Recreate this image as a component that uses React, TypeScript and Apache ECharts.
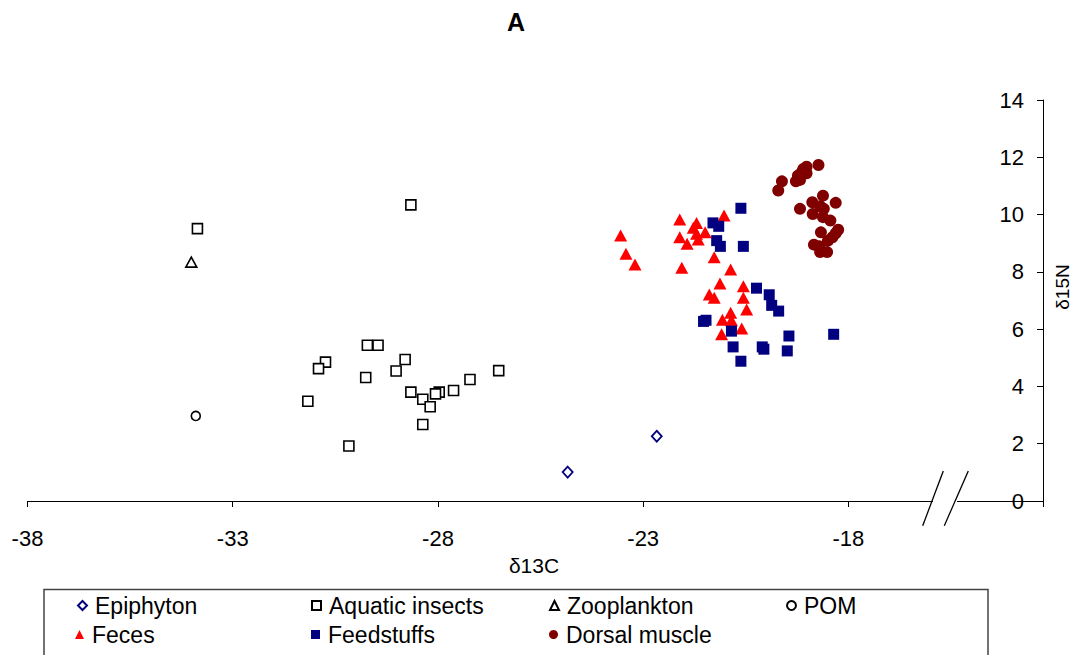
import React, { useEffect, useRef } from "react";
import * as echarts from "echarts";

const FONT = "'Liberation Sans', Arial, sans-serif";

const xTicks = [-38, -33, -28, -23, -18];
const yTicks = [0, 2, 4, 6, 8, 10, 12, 14];

const epiphyton = [[-24.84, 1.01], [-22.67, 2.26]];
const aquaticInsects = [
  [-28.66, 10.34], [-33.86, 9.51], [-29.72, 5.44], [-29.46, 5.44], [-30.74, 4.85],
  [-30.91, 4.62], [-28.8, 4.94], [-29.02, 4.54], [-29.76, 4.31], [-26.52, 4.55],
  [-27.22, 4.24], [-27.62, 3.86], [-27.97, 3.8], [-28.06, 3.74], [-28.66, 3.8],
  [-28.37, 3.55], [-28.19, 3.29], [-31.17, 3.48], [-28.37, 2.67], [-30.17, 1.92],
];
const zooplankton = [[-34.01, 8.34]];
const pom = [[-33.9, 2.97]];
const feces = [
  [-23.55, 9.27], [-23.42, 8.63], [-23.2, 8.26], [-22.11, 9.83], [-21.7, 9.71],
  [-21.78, 9.54], [-22.11, 9.21], [-21.7, 9.33], [-21.49, 9.38], [-21.66, 9.13],
  [-21.93, 8.98], [-21.03, 9.97], [-21.27, 8.51], [-22.06, 8.14], [-20.87, 8.08],
  [-21.13, 7.59], [-20.56, 7.5], [-21.39, 7.21], [-21.27, 7.1], [-20.56, 7.1],
  [-20.48, 6.69], [-20.87, 6.57], [-21.07, 6.33], [-20.85, 6.31], [-20.6, 6.02],
  [-21.09, 5.82],
];
const feedstuffs = [
  [-20.62, 10.22], [-21.3, 9.71], [-21.16, 9.59], [-21.21, 9.09], [-21.12, 8.89],
  [-20.56, 8.89], [-20.24, 7.43], [-19.93, 7.2], [-19.87, 6.83], [-19.7, 6.63],
  [-21.53, 6.27], [-21.47, 6.31], [-20.85, 5.93], [-19.45, 5.76], [-18.36, 5.82],
  [-20.81, 5.38], [-20.1, 5.38], [-20.06, 5.3], [-19.49, 5.24], [-20.62, 4.88],
];
const dorsalMuscle = [
  [-18.73, 11.73], [-19.02, 11.67], [-19.1, 11.59], [-19.14, 11.47], [-19.02, 11.44],
  [-19.23, 11.36], [-19.28, 11.16], [-19.18, 11.21], [-19.62, 11.16], [-19.71, 10.84],
  [-18.62, 10.66], [-18.88, 10.43], [-18.31, 10.41], [-19.18, 10.2], [-18.69, 10.29],
  [-18.6, 10.2], [-18.87, 10.02], [-18.62, 9.91], [-18.44, 9.79], [-18.25, 9.47],
  [-18.31, 9.35], [-18.67, 9.38], [-18.39, 9.21], [-18.5, 9.09], [-18.84, 8.95],
  [-18.69, 8.69], [-18.52, 8.69], [-18.71, 8.89],
];

const seriesNames = [
  "Epiphyton", "Aquatic insects", "Zooplankton", "POM",
  "Feces", "Feedstuffs", "Dorsal muscle",
];

export default function App() {
  const ref = useRef<HTMLDivElement>(null);
  useEffect(() => {
    if (!ref.current) return;
    const chart = echarts.init(ref.current, null, { renderer: "svg" });
    const hollow = (border: string, bw = 1.6) => ({ color: "#ffffff", borderColor: border, borderWidth: bw, opacity: 1 });
    const series: any[] = [
      { name: seriesNames[0], data: epiphyton, symbol: "diamond", symbolSize: [10, 11], itemStyle: hollow("#000080", 1.8) },
      { name: seriesNames[1], data: aquaticInsects, symbol: "rect", symbolSize: 10, itemStyle: hollow("#000000", 1.6) },
      { name: seriesNames[2], data: zooplankton, symbol: "triangle", symbolSize: [11, 10], itemStyle: hollow("#000000", 1.6) },
      { name: seriesNames[3], data: pom, symbol: "circle", symbolSize: 9, itemStyle: hollow("#000000", 1.6) },
      { name: seriesNames[4], data: feces, symbol: "triangle", symbolSize: [13, 12], itemStyle: { color: "#ff0000", opacity: 1 } },
      { name: seriesNames[5], data: feedstuffs, symbol: "rect", symbolSize: 11, itemStyle: { color: "#000080", opacity: 1 } },
      { name: seriesNames[6], data: dorsalMuscle, symbol: "circle", symbolSize: 12, itemStyle: { color: "#800000", opacity: 1 } },
    ].map((s) => ({ type: "scatter", ...s }));

    const legendPos = [
      [77, 594], [311, 594], [549, 594], [786, 594],
      [75, 623], [311, 623], [549, 623],
    ];
    const legends = seriesNames.map((n, i) => ({
      data: [n],
      left: legendPos[i][0],
      top: legendPos[i][1],
      itemWidth: 9,
      itemHeight: 9,
      itemGap: 0,
      padding: 0,
      selectedMode: false,
      textStyle: { fontFamily: FONT, fontSize: 23, color: "#000", padding: [0, 0, 0, 3] },
    }));

    chart.setOption({
      animation: false,
      backgroundColor: "#ffffff",
      legend: legends,
      grid: { left: 27.5, right: 36, top: 100, bottom: 154, containLabel: false },
      xAxis: {
        type: "value",
        min: -38,
        max: -13.26,
        interval: 5,
        axisLine: { show: true, onZero: false, lineStyle: { color: "#000", width: 1 } },
        axisTick: { show: true, length: 6, lineStyle: { color: "#000" } },
        splitLine: { show: false },
        axisLabel: {
          fontFamily: FONT,
          fontSize: 22,
          color: "#000",
          margin: 26,
          formatter: (v: number) => (xTicks.includes(v) ? String(v) : ""),
        },
      },
      yAxis: {
        type: "value",
        position: "right",
        min: 0,
        max: 14,
        interval: 2,
        axisLine: { show: true, lineStyle: { color: "#000", width: 1 } },
        axisTick: { show: true, inside: true, length: 6, lineStyle: { color: "#000" } },
        splitLine: { show: false },
        axisLabel: {
          inside: true,
          fontFamily: FONT,
          fontSize: 22,
          color: "#000",
          margin: 19,
          formatter: (v: number) => (yTicks.includes(v) ? String(v) : ""),
        },
      },
      graphic: [
        {
          type: "text",
          x: 516,
          y: 22,
          style: { text: "A", fontFamily: FONT, fontSize: 25, fontWeight: "bold", fill: "#000", textAlign: "center", textVerticalAlign: "middle" },
        },
        {
          type: "text",
          x: 534,
          y: 565,
          style: { text: "δ13C", fontFamily: FONT, fontSize: 21, fill: "#000", textAlign: "center", textVerticalAlign: "middle" },
        },
        {
          type: "text",
          x: 1062,
          y: 287,
          rotation: Math.PI / 2,
          style: { text: "δ15N", fontFamily: FONT, fontSize: 19, fill: "#000", textAlign: "center", textVerticalAlign: "middle" },
        },
        {
          type: "polygon",
          shape: { points: [[933, 497], [957, 497], [957, 505], [933, 505]] },
          style: { fill: "#ffffff" },
          z: 100,
        },
        { type: "line", shape: { x1: 922.7, y1: 525.7, x2: 943.3, y2: 471 }, style: { stroke: "#000", lineWidth: 1.3 }, z: 101 },
        { type: "line", shape: { x1: 944.3, y1: 525.7, x2: 968.3, y2: 471 }, style: { stroke: "#000", lineWidth: 1.3 }, z: 101 },
        {
          type: "rect",
          shape: { x: 44, y: 589.5, width: 944, height: 80 },
          style: { fill: "none", stroke: "#444", lineWidth: 1.5 },
        },
      ],
      series,
    });
    return () => chart.dispose();
  }, []);
  return <div ref={ref} style={{ width: 1079, height: 655, position: "absolute", left: 0, top: 0 }} />;
}
